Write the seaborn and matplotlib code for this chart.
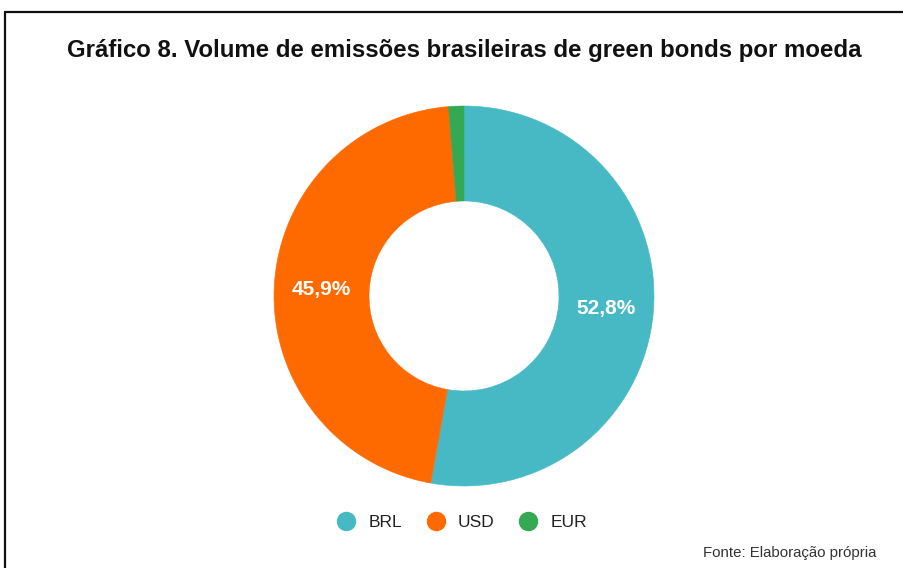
import matplotlib
matplotlib.use("Agg")
import matplotlib.pyplot as plt
from matplotlib.lines import Line2D
import numpy as np
import seaborn as sns

# Share of Brazilian green bond issuance by currency (%)
currencies = ["BRL", "USD", "EUR"]
shares = [52.8, 45.9, 1.3]
colors = ["#47B9C4", "#FF6A00", "#34A853"]
label_texts = ["52,8%", "45,9%", ""]

title = "Gráfico 8. Volume de emissões brasileiras de green bonds por moeda"
source = "Fonte: Elaboração própria"

sns.set_theme(style="white")
plt.rcParams["font.family"] = ["Liberation Sans", "DejaVu Sans"]

fig = plt.figure(figsize=(9.04, 5.68), dpi=100)
fig.patch.set_facecolor("white")

# Donut
ax = fig.add_axes([464 / 904 - 190 / 904, (568 - 296) / 568 - 190 / 568, 380 / 904, 380 / 568])
wedges, _ = ax.pie(
    shares,
    colors=colors,
    startangle=90,
    counterclock=False,
    radius=1.0,
    wedgeprops=dict(width=0.5, linewidth=0),
)
for w, c in zip(wedges, colors):
    w.set_edgecolor(c)
    w.set_linewidth(0.4)
ax.set_xlim(-1, 1)
ax.set_ylim(-1, 1)
ax.set_aspect("equal")
ax.axis("off")

# Percentage labels at the ring midline
cum = np.cumsum([0] + shares[:-1])
for start, val, txt in zip(cum, shares, label_texts):
    if not txt:
        continue
    mid = np.deg2rad(90 - (start + val / 2) / 100 * 360)
    r = 0.75
    ax.text(r * np.cos(mid), r * np.sin(mid), txt, ha="center", va="center",
            color="white", fontsize=15, fontweight="bold")

# Title
fig.text(464 / 904, 1 - 50 / 568, title, ha="center", va="center",
         fontsize=17.3, fontweight="bold", color="#111111")

# Legend with circular markers
handles = [Line2D([0], [0], marker="o", linestyle="", markersize=13,
                  markerfacecolor=c, markeredgecolor=c) for c in colors]
fig.legend(handles, currencies, loc="center", bbox_to_anchor=(458 / 904, 1 - 522 / 568),
           ncol=3, frameon=False, fontsize=12.5, handletextpad=0.3, columnspacing=0.9,
           labelcolor="#222222")

# Source note
fig.text(876 / 904, 1 - 553 / 568, source, ha="right", va="center",
         fontsize=10.8, color="#333333")

# Frame lines along top and left edges
fig.add_artist(Line2D([5 / 904, 1.0], [1 - 11.5 / 568, 1 - 11.5 / 568],
                      transform=fig.transFigure, color="#111111", linewidth=1.6))
fig.add_artist(Line2D([5 / 904, 5 / 904], [1 - 11.5 / 568, 0.0],
                      transform=fig.transFigure, color="#111111", linewidth=1.6))

fig.savefig("out.png", dpi=100, facecolor="white")
